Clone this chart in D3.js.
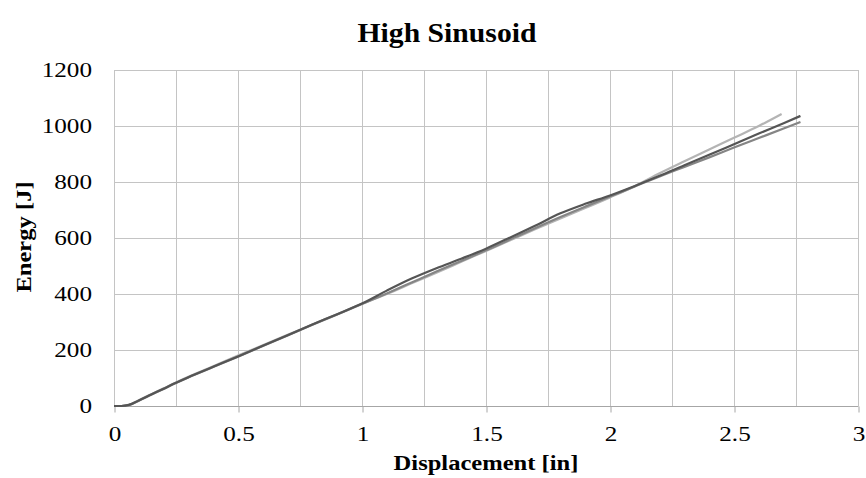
<!DOCTYPE html>
<html>
<head>
<meta charset="utf-8">
<script src="https://cdn.jsdelivr.net/npm/d3@7"></script>
<style>
  html, body { margin: 0; padding: 0; background: #fff; }
  svg text { font-family: "Liberation Serif", "Times New Roman", serif; fill: #000; }
</style>
</head>
<body>
<svg id="chart" width="866" height="478"></svg>
<script>
// Energy vs displacement for three runs of the high sinusoid test
const displacementA = [0, 0.03, 0.06, 0.1, 0.15, 0.2, 0.25, 0.3, 0.4, 0.5, 0.6, 0.7, 0.8, 0.9, 1.0, 1.1, 1.2, 1.3, 1.4, 1.5, 1.6, 1.7, 1.8, 1.9, 2.0, 2.1, 2.2, 2.3, 2.4, 2.5, 2.6, 2.7, 2.768];
const energyA       = [0, 0, 4, 20, 41, 62, 83, 103, 140, 177, 215, 253, 291, 328, 366, 412, 455, 492, 526, 562, 603, 645, 688, 722, 752, 786, 822, 860, 897, 935, 973, 1010, 1036];

const displacementB = [0, 0.03, 0.06, 0.1, 0.15, 0.2, 0.25, 0.3, 0.4, 0.5, 0.6, 0.7, 0.8, 0.9, 1.0, 1.1, 1.2, 1.3, 1.4, 1.5, 1.6, 1.7, 1.8, 1.9, 2.0, 2.1, 2.2, 2.3, 2.4, 2.5, 2.6, 2.7, 2.768];
const energyB       = [0, 0, 3, 19, 40, 61, 82, 102, 139, 176, 214, 252, 290, 327, 364, 402, 441, 480, 518, 556, 596, 636, 675, 712, 748, 784, 820, 854, 888, 923, 957, 991, 1014];

const displacementC = [0, 0.03, 0.06, 0.1, 0.15, 0.2, 0.25, 0.3, 0.4, 0.5, 0.6, 0.7, 0.8, 0.9, 1.0, 1.1, 1.2, 1.3, 1.4, 1.5, 1.6, 1.7, 1.8, 1.9, 2.0, 2.1, 2.2, 2.3, 2.4, 2.5, 2.6, 2.692];
const energyC       = [0, 0, 4, 21, 42, 63, 84, 104, 142, 180, 217, 254, 291, 328, 365, 400, 438, 476, 515, 554, 593, 632, 670, 707, 745, 785, 831, 874, 916, 958, 1000, 1043];

const xTicks = [0, 0.5, 1, 1.5, 2, 2.5, 3];
const xTickLabels = ["0", "0.5", "1", "1.5", "2", "2.5", "3"];
const xGrid = [0.25, 0.5, 0.75, 1, 1.25, 1.5, 1.75, 2, 2.25, 2.5, 2.75, 3];
const yTicks = [0, 200, 400, 600, 800, 1000, 1200];
const yTickLabels = ["0", "200", "400", "600", "800", "1000", "1200"];

const series = [
  { x: displacementC, y: energyC, color: "#b4b4b4" },
  { x: displacementB, y: energyB, color: "#858585" },
  { x: displacementA, y: energyA, color: "#555555" }
];

const svg = d3.select("#chart");
const margin = { left: 114, right: 8, top: 70, bottom: 72 };
const W = 866, H = 478;
const stretch = 1.2; // glyph widening used for all horizontal text

const x = d3.scaleLinear().domain([0, 3]).range([margin.left, W - margin.right]);
const y = d3.scaleLinear().domain([0, 1200]).range([H - margin.bottom, margin.top]);

// grid
const grid = svg.append("g");
grid.selectAll("line.h").data(yTicks.filter(d => d > 0)).enter().append("line")
  .attr("x1", x(0)).attr("x2", x(3))
  .attr("y1", d => Math.round(y(d)) + 0.5).attr("y2", d => Math.round(y(d)) + 0.5)
  .attr("stroke", "#c4c4c4").attr("stroke-width", 1);
grid.selectAll("line.v").data(xGrid).enter().append("line")
  .attr("x1", d => Math.round(x(d)) + 0.5).attr("x2", d => Math.round(x(d)) + 0.5)
  .attr("y1", y(0)).attr("y2", y(1200))
  .attr("stroke", "#c4c4c4").attr("stroke-width", 1);
grid.append("line")
  .attr("x1", Math.round(x(0)) + 0.5).attr("x2", Math.round(x(0)) + 0.5)
  .attr("y1", y(0)).attr("y2", y(1200))
  .attr("stroke", "#c4c4c4").attr("stroke-width", 1);

// x axis
const xAxis = d3.axisBottom(x).tickValues(xTicks).tickSize(6).tickPadding(14)
  .tickFormat((d, i) => xTickLabels[i]);
const gx = svg.append("g").attr("transform", `translate(0.5,${Math.round(y(0)) + 0.5})`).call(xAxis);
gx.select(".domain").attr("stroke", "#a6a6a6").attr("d", `M${x(0)},0H${x(3)}`);
gx.selectAll(".tick line").attr("stroke", "#a6a6a6");
gx.selectAll(".tick text")
  .attr("font-size", 21).attr("font-family", "Liberation Serif").attr("fill", "#000")
  .attr("dy", "0.68em")
  .attr("transform", `scale(${stretch},1)`);

// y axis labels
const yAxis = d3.axisLeft(y).tickValues(yTicks).tickSize(0).tickPadding(0)
  .tickFormat((d, i) => yTickLabels[i]);
const gy = svg.append("g").attr("transform", `translate(${x(0)},0)`).call(yAxis);
gy.select(".domain").remove();
gy.selectAll(".tick text")
  .attr("font-size", 21).attr("font-family", "Liberation Serif").attr("fill", "#000")
  .attr("x", -22 / stretch)
  .attr("transform", `scale(${stretch},1)`);

// lines
const line = d3.line().x(d => x(d[0])).y(d => y(d[1])).curve(d3.curveMonotoneX);
series.forEach(s => {
  svg.append("path")
    .datum(s.x.map((v, i) => [v, s.y[i]]))
    .attr("fill", "none")
    .attr("stroke", s.color)
    .attr("stroke-width", 2.2)
    .attr("stroke-linejoin", "round")
    .attr("d", line);
});

// titles
svg.append("text").attr("transform", "translate(447,42) scale(1.06,1)").attr("text-anchor", "middle")
  .attr("font-size", 28).attr("font-weight", "bold").text("High Sinusoid");
svg.append("text").attr("transform", `translate(${x(1.5)},470) scale(1.17,1)`).attr("text-anchor", "middle")
  .attr("font-size", 21).attr("font-weight", "bold").text("Displacement [in]");
svg.append("text").attr("transform", "translate(31,237) rotate(-90) scale(1.17,1)").attr("text-anchor", "middle")
  .attr("font-size", 21).attr("font-weight", "bold").text("Energy [J]");
</script>
</body>
</html>
